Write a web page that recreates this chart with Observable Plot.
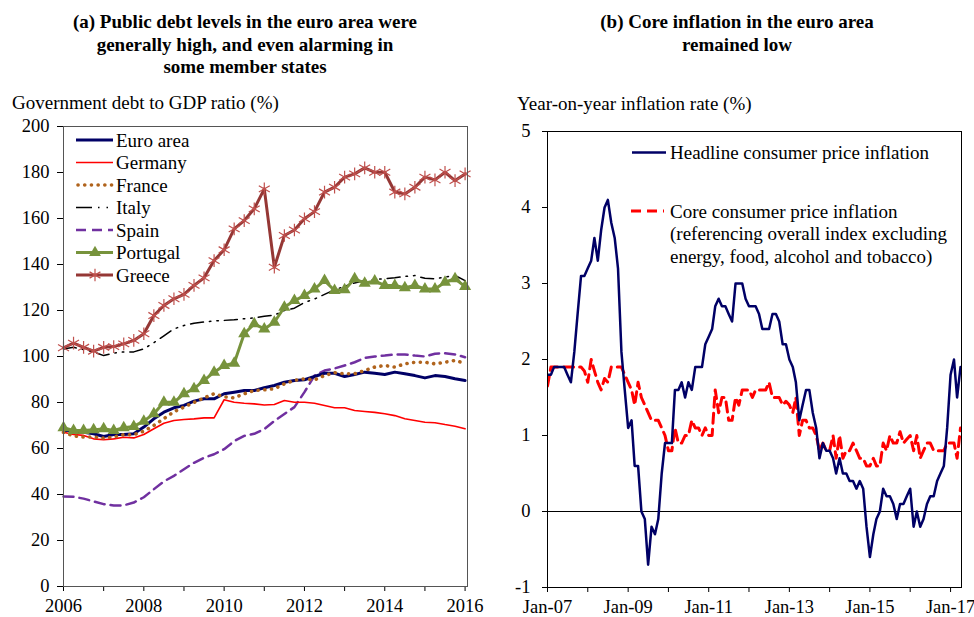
<!DOCTYPE html>
<html>
<head>
<meta charset="utf-8">
<script src="https://cdn.jsdelivr.net/npm/d3@7"></script>
<script src="https://cdn.jsdelivr.net/npm/@observablehq/plot@0.6"></script>
<style>
  body { margin: 0; background: white; }
  #page { position: relative; width: 974px; height: 617px; overflow: hidden; background: white;
          font-family: "Liberation Serif", "Times New Roman", serif; color: black; }
  .title { position: absolute; font-weight: bold; font-size: 19px; line-height: 22.5px; text-align: center; }
  .ylab { position: absolute; font-size: 19px; line-height: 20px; white-space: nowrap; }
  .plotbox { position: absolute; }
  .plotbox svg { overflow: visible; max-width: none; }
  #legend { position: absolute; left: 0; top: 0; pointer-events: none; }
</style>
</head>
<body>
<div id="page">
  <div class="title" style="left:20px; top:11px; width:450px;">(a) Public debt levels in the euro area were<br>generally high, and even alarming in<br>some member states</div>
  <div class="title" style="left:537px; top:11px; width:400px;">(b) Core inflation in the euro area<br>remained low</div>
  <div class="ylab" style="left:12px; top:93px;">Government debt to GDP ratio (%)</div>
  <div class="ylab" style="left:517px; top:94px;">Year-on-year inflation rate (%)</div>
  <div class="plotbox" id="left" style="left:13px; top:116px;"></div>
  <div class="plotbox" id="right" style="left:507px; top:121px;"></div>
</div>
<script>
// ---------- Panel (a): government debt to GDP ratio, quarterly 2006Q1 - 2016Q1 ----------
const debtYearTicks = [2006, 2007, 2008, 2009, 2010, 2011, 2012, 2013, 2014, 2015, 2016];
const debtYTicks = [0, 20, 40, 60, 80, 100, 120, 140, 160, 180, 200];
const seriesNames = ["Euro area", "Germany", "France", "Italy", "Spain", "Portugal", "Greece"];

const euroArea = [67.8, 67.8, 67.1, 66.4, 65.2, 66.1, 66.1, 66.4, 69.3, 72.9, 75.8, 77.7,
  78.7, 80.6, 81.6, 81.6, 83.8, 84.5, 85.2, 85.2, 86.4, 87.4, 88.8, 89.6, 89.9, 91.3, 92.7, 92.7,
  91.3, 92.2, 93.2, 92.7, 92.2, 93.2, 92.5, 91.7, 90.7, 91.7, 91.3, 90.3, 89.6];
const germany = [67.1, 66.1, 65.7, 64.2, 63.8, 64.2, 64.9, 64.6, 66.1, 68.6, 71.0, 72.2,
  72.6, 72.9, 73.3, 73.3, 81.2, 80.1, 79.7, 79.4, 78.9, 79.1, 80.9, 80.1, 80.1, 79.7, 78.7, 77.7,
  77.7, 76.5, 76.1, 75.7, 75.1, 74.3, 72.9, 72.2, 71.4, 71.2, 70.4, 69.7, 68.6];
const france = [67.0, 65.5, 65.0, 65.0, 64.5, 65.0, 66.0, 66.0, 67.5, 70.0, 73.0, 76.0,
  78.0, 80.0, 82.0, 83.8, 82.5, 82.0, 83.8, 85.2, 85.5, 86.0, 88.1, 89.6, 90.3, 89.8, 91.7, 93.0,
  92.5, 92.5, 93.9, 95.4, 96.1, 95.4, 96.8, 97.5, 97.5, 96.8, 97.5, 98.3, 97.0];
const italy = [103.3, 104.0, 103.0, 102.0, 100.4, 101.5, 102.0, 102.0, 103.3, 106.0, 109.0, 112.0,
  113.5, 114.5, 115.0, 115.5, 115.7, 116.0, 116.4, 116.8, 117.5, 118.0, 120.0, 121.0, 123.5, 125.0, 127.0, 129.0,
  130.5, 132.0, 133.0, 133.5, 133.8, 134.2, 134.8, 135.2, 134.0, 133.8, 134.5, 135.2, 133.0];
const spain = [39.1, 39.0, 38.2, 37.0, 35.8, 35.2, 35.3, 36.5, 38.8, 42.3, 45.7, 48.1,
  51.0, 53.8, 56.0, 57.5, 59.7, 63.2, 65.5, 66.4, 68.4, 72.0, 75.0, 78.0, 84.5, 91.7, 93.9, 94.8,
  96.1, 97.5, 99.4, 100.0, 100.4, 100.9, 100.9, 100.4, 100.0, 101.2, 101.4, 100.9, 99.7];
const portugal = [69.0, 67.8, 67.8, 68.1, 68.6, 67.8, 69.0, 69.6, 71.9, 75.1, 80.1, 80.1,
  83.8, 86.0, 89.6, 93.2, 96.1, 97.1, 109.9, 114.2, 112.0, 114.9, 121.4, 124.3, 126.5, 129.4, 133.0, 128.7,
  129.0, 133.8, 131.9, 132.8, 130.9, 130.9, 129.9, 130.9, 129.4, 129.4, 132.3, 133.8, 130.4];
const greece = [103.8, 105.8, 104.0, 102.3, 104.0, 104.3, 105.5, 107.0, 109.9, 117.8, 122.2, 125.1,
  127.0, 130.9, 134.2, 141.7, 146.4, 155.5, 159.1, 164.2, 172.9, 138.8, 152.6, 155.0, 159.9, 163.0, 171.5, 173.6,
  178.0, 179.4, 182.0, 180.1, 180.1, 171.5, 170.7, 173.6, 178.0, 176.8, 180.1, 176.5, 179.4];

// ---------- Panel (b): inflation, monthly Jan-07 - Apr-17 ----------
const inflYTicks = [-1, 0, 1, 2, 3, 4, 5];
const inflLegend = ["Headline consumer price inflation",
  "Core consumer price inflation", "(referencing overall index excluding", "energy, food, alcohol and tobacco)"];
const headline = [
  1.8, 1.8, 1.9, 1.9, 1.9, 1.9, 1.8, 1.7, 2.1, 2.6, 3.1, 3.1,
  3.2, 3.3, 3.6, 3.3, 3.7, 4.0, 4.1, 3.8, 3.6, 3.2, 2.1, 1.6,
  1.1, 1.2, 0.6, 0.6, 0.0, -0.1, -0.7, -0.2, -0.3, -0.1, 0.5, 0.9,
  0.9, 0.9, 1.6, 1.6, 1.7, 1.5, 1.7, 1.6, 1.9, 1.9, 1.9, 2.2,
  2.3, 2.4, 2.7, 2.8, 2.7, 2.7, 2.6, 2.5, 3.0, 3.0, 3.0, 2.8,
  2.7, 2.7, 2.7, 2.6, 2.4, 2.4, 2.4, 2.6, 2.6, 2.5, 2.2, 2.2,
  2.0, 1.9, 1.7, 1.2, 1.4, 1.6, 1.6, 1.3, 1.1, 0.7, 0.9, 0.8,
  0.8, 0.7, 0.5, 0.7, 0.5, 0.5, 0.4, 0.4, 0.3, 0.4, 0.3, -0.2,
  -0.6, -0.3, -0.1, 0.0, 0.3, 0.2, 0.2, 0.1, -0.1, 0.1, 0.1, 0.2,
  0.3, -0.2, 0.0, -0.2, -0.1, 0.1, 0.2, 0.2, 0.4, 0.5, 0.6, 1.1,
  1.8, 2.0, 1.5, 1.9];
const core = [
  1.65, 1.9, 1.9, 1.9, 1.9, 1.9, 1.9, 1.9, 1.9, 1.9, 1.9, 1.85,
  1.7, 2.0, 1.85, 1.7, 1.6, 1.75, 1.7, 1.9, 1.9, 1.9, 1.9, 1.8,
  1.7, 1.6, 1.4, 1.7, 1.5, 1.4, 1.3, 1.2, 1.2, 1.2, 1.1, 1.0,
  0.8, 0.8, 1.1, 0.9, 0.9, 1.0, 1.0, 1.2, 1.1, 1.1, 1.0, 1.1,
  1.0, 1.0, 1.6, 1.3, 1.5, 1.5, 1.2, 1.2, 1.5, 1.4, 1.6, 1.6,
  1.6, 1.5, 1.6, 1.6, 1.6, 1.6, 1.7, 1.5, 1.5, 1.5, 1.4, 1.45,
  1.4, 1.3, 1.5, 1.0, 1.2, 1.2, 1.1, 1.1, 1.0, 0.8, 0.9, 0.8,
  0.8, 1.0, 0.7, 1.0, 0.7, 0.8, 0.8, 0.9, 0.8, 0.7, 0.7, 0.6,
  0.6, 0.7, 0.6, 0.6, 0.9, 0.8, 1.0, 0.9, 0.9, 1.05, 0.9, 0.95,
  1.0, 0.8, 1.0, 0.7, 0.8, 0.9, 0.9, 0.8, 0.8, 0.8, 0.8, 0.9,
  0.9, 0.9, 0.7, 1.1];

const serif = "'Liberation Serif', 'Times New Roman', serif";
const quarter = (d, i) => 2006 + i / 4;
const month = (d, i) => new Date(Date.UTC(2007, i, 1));

const colors = {
  euro: "#000066", germany: "#ff0000", france: "#b0631c", italy: "#000000",
  spain: "#7030a0", portugal: "#77933c", greece: "#953735", greeceMark: "#c0504d",
  headline: "#000066", core: "#ff0000"
};

const left = Plot.plot({
  width: 464, height: 500,
  marginLeft: 50, marginRight: 10, marginTop: 10, marginBottom: 30,
  style: { fontFamily: serif, fontSize: "18.5px", background: "white", color: "black", overflow: "visible" },
  x: { domain: [2006, 2016.06] },
  y: { domain: [0, 200] },
  marks: [
    Plot.axisY({ ticks: debtYTicks, tickSize: 6, tickPadding: 8, label: null, tickFormat: d => String(d) }),
    Plot.axisX({ ticks: debtYearTicks, tickSize: 5, tickPadding: 7, label: null,
      tickFormat: d => (d % 2 === 0 ? String(d) : "") }),
    Plot.line(spain, { x: quarter, y: d => d, stroke: colors.spain, strokeWidth: 2.5, strokeDasharray: "10 6" }),
    Plot.line(germany, { x: quarter, y: d => d, stroke: colors.germany, strokeWidth: 1.6 }),
    Plot.line(euroArea, { x: quarter, y: d => d, stroke: colors.euro, strokeWidth: 3 }),
    Plot.line(france, { x: quarter, y: d => d, stroke: colors.france, strokeWidth: 3.6,
      strokeDasharray: "0.1 6.6", strokeLinecap: "round" }),
    Plot.line(italy, { x: quarter, y: d => d, stroke: colors.italy, strokeWidth: 1.5,
      strokeDasharray: "13 6 1.5 6 1.5 6" }),
    Plot.line(portugal, { x: quarter, y: d => d, stroke: colors.portugal, strokeWidth: 3 }),
    Plot.dot(portugal, { x: quarter, y: d => d, symbol: "triangle", r: 4.5, fill: colors.portugal }),
    Plot.line(greece, { x: quarter, y: d => d, stroke: colors.greece, strokeWidth: 3 }),
    Plot.dot(greece, { x: quarter, y: d => d, symbol: "asterisk", r: 6, stroke: colors.greeceMark, strokeWidth: 1.2 }),
    Plot.frame({ stroke: "#555" })
  ]
});
document.getElementById("left").appendChild(left);

const yearTicks = d3.utcYear.range(new Date(Date.UTC(2007, 0, 1)), new Date(Date.UTC(2017, 1, 1)));
const right = Plot.plot({
  width: 467, height: 496,
  marginLeft: 40, marginRight: 13, marginTop: 10, marginBottom: 30,
  style: { fontFamily: serif, fontSize: "18.5px", background: "white", color: "black", overflow: "visible" },
  x: { type: "utc", domain: [new Date(Date.UTC(2007, 0, 1)), new Date(Date.UTC(2017, 3, 10))] },
  y: { domain: [-1, 5] },
  marks: [
    Plot.axisY({ ticks: inflYTicks, tickSize: 5, tickPadding: 12, label: null, tickFormat: d => String(d) }),
    Plot.axisX({ ticks: yearTicks, tickSize: 5, tickPadding: 7, label: null,
      tickFormat: d => (d.getUTCFullYear() % 2 === 1 ? "Jan-" + String(d.getUTCFullYear() % 100).padStart(2, "0") : "") }),
    Plot.ruleY([0], { stroke: "black", strokeWidth: 1 }),
    Plot.line(core, { x: month, y: d => d, stroke: colors.core, strokeWidth: 3, strokeDasharray: "10 6", clip: true }),
    Plot.line(headline, { x: month, y: d => d, stroke: colors.headline, strokeWidth: 2.5, clip: true }),
    Plot.frame({ stroke: "black" })
  ]
});
document.getElementById("right").appendChild(right);

// ---------- Legends (overlay) ----------
const ns = "http://www.w3.org/2000/svg";
const leg = document.createElementNS(ns, "svg");
leg.setAttribute("id", "legend");
leg.setAttribute("width", 974);
leg.setAttribute("height", 617);
document.getElementById("page").appendChild(leg);
function el(tag, attrs) {
  const e = document.createElementNS(ns, tag);
  for (const k in attrs) e.setAttribute(k, attrs[k]);
  leg.appendChild(e);
  return e;
}
function txt(x, y, s) {
  const t = el("text", { x, y, "font-family": serif, "font-size": 19, fill: "black" });
  t.textContent = s;
}
const legStyles = [
  { stroke: colors.euro, "stroke-width": 3 },
  { stroke: colors.germany, "stroke-width": 1.6 },
  { stroke: colors.france, "stroke-width": 3.6, "stroke-dasharray": "0.1 6.6", "stroke-linecap": "round" },
  { stroke: colors.italy, "stroke-width": 1.5, "stroke-dasharray": "16 6 1.5 7 1.5 7" },
  { stroke: colors.spain, "stroke-width": 2.5, "stroke-dasharray": "10 6" },
  { stroke: colors.portugal, "stroke-width": 3 },
  { stroke: colors.greece, "stroke-width": 3 }
];
seriesNames.forEach((name, i) => {
  const y = 140 + i * 22.5;
  el("line", Object.assign({ x1: i === 2 ? 78 : 76, x2: 113, y1: y, y2: y, fill: "none" }, legStyles[i]));
  if (i === 5) el("path", { d: d3.symbol(d3.symbolTriangle, 60)(), transform: `translate(95,${y})`, fill: colors.portugal });
  if (i === 6) el("path", { d: d3.symbol(d3.symbolAsterisk, 110)(), transform: `translate(95,${y})`, fill: "none", stroke: colors.greeceMark, "stroke-width": 1.2 });
  txt(116, y + 6.5, name);
});
el("line", { x1: 632, x2: 666, y1: 152.5, y2: 152.5, stroke: colors.headline, "stroke-width": 2.5 });
txt(670, 159, inflLegend[0]);
el("line", { x1: 631, x2: 664, y1: 211, y2: 211, stroke: colors.core, "stroke-width": 3, "stroke-dasharray": "10 6" });
txt(670, 217.5, inflLegend[1]);
txt(670, 240, inflLegend[2]);
txt(670, 262.5, inflLegend[3]);
</script>
</body>
</html>
